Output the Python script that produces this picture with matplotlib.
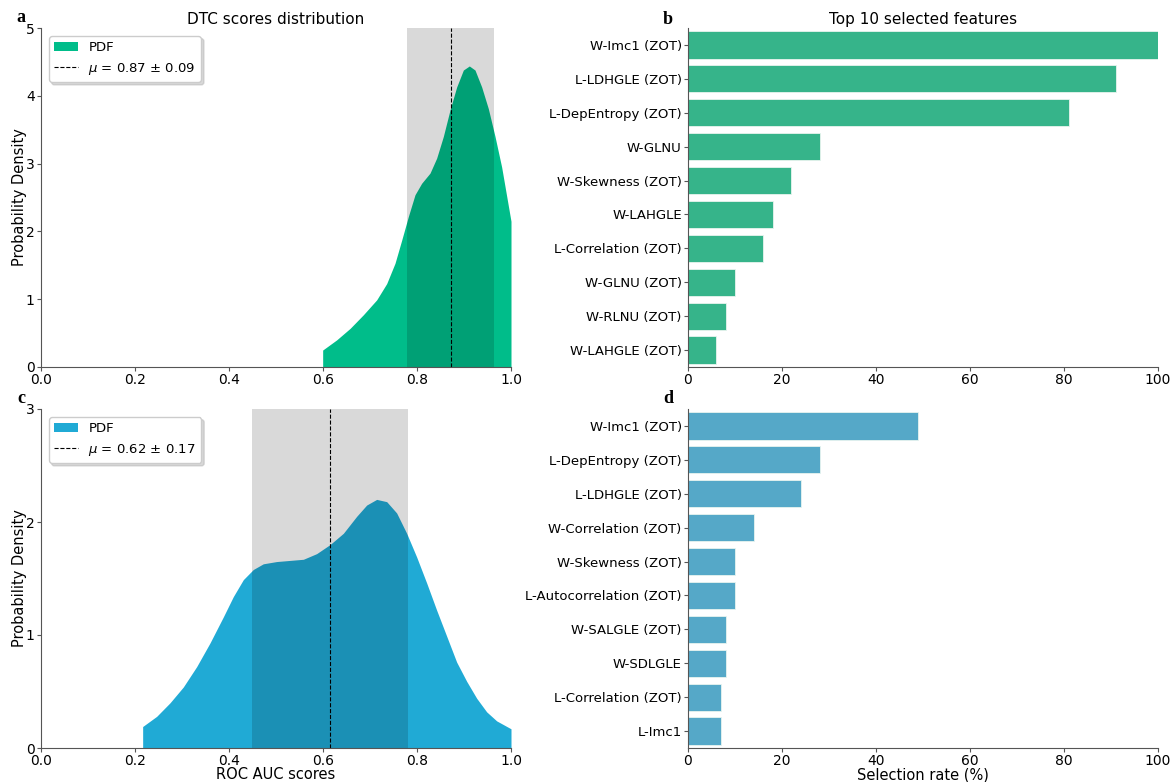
import numpy as np
import matplotlib.pyplot as plt

# ---- data ----
# KDE curve of DTC scores (panel a)
dtc_x = [0.5993, 0.6291, 0.6577, 0.6858, 0.7142, 0.7355, 0.7532, 0.7674, 0.7816, 0.7957,
         0.8099, 0.8277, 0.8418, 0.8560, 0.8702, 0.8844, 0.8986, 0.9113, 0.9234, 0.9376,
         0.9518, 0.9660, 0.9801, 1.0000]
dtc_y = [0.25, 0.40, 0.57, 0.77, 0.99, 1.23, 1.53, 1.87, 2.22, 2.54,
         2.71, 2.86, 3.08, 3.40, 3.79, 4.13, 4.38, 4.44, 4.38, 4.13,
         3.81, 3.40, 2.95, 2.15]
dtc_mean, dtc_std = 0.8718, 0.0929

# KDE curve of ROC AUC scores (panel c)
auc_x = [0.2163, 0.2461, 0.2745, 0.3028, 0.3312, 0.3596, 0.3879, 0.4092, 0.4305, 0.4518,
         0.4730, 0.5014, 0.5298, 0.5582, 0.5865, 0.6149, 0.6433, 0.6716, 0.6929, 0.7142,
         0.7355, 0.7567, 0.7780, 0.7993, 0.8206, 0.8418, 0.8631, 0.8844, 0.9057, 0.9270,
         0.9482, 0.9695, 1.0000]
auc_y = [0.19, 0.28, 0.40, 0.54, 0.72, 0.93, 1.16, 1.34, 1.49, 1.58,
         1.63, 1.65, 1.66, 1.67, 1.72, 1.80, 1.90, 2.05, 2.15, 2.20,
         2.18, 2.08, 1.90, 1.69, 1.46, 1.22, 0.99, 0.76, 0.59, 0.44,
         0.32, 0.24, 0.17]
auc_mean, auc_std = 0.6156, 0.1657

# top 10 selected features
feat_b = ['W-Imc1 (ZOT)', 'L-LDHGLE (ZOT)', 'L-DepEntropy (ZOT)', 'W-GLNU',
          'W-Skewness (ZOT)', 'W-LAHGLE', 'L-Correlation (ZOT)', 'W-GLNU (ZOT)',
          'W-RLNU (ZOT)', 'W-LAHGLE (ZOT)']
rate_b = [100, 91, 81, 28, 22, 18, 16, 10, 8, 6]

feat_d = ['W-Imc1 (ZOT)', 'L-DepEntropy (ZOT)', 'L-LDHGLE (ZOT)', 'W-Correlation (ZOT)',
          'W-Skewness (ZOT)', 'L-Autocorrelation (ZOT)', 'W-SALGLE (ZOT)', 'W-SDLGLE',
          'L-Correlation (ZOT)', 'L-Imc1']
rate_d = [49, 28, 24, 14, 10, 10, 8, 8, 7, 7]

plt.rcParams['font.family'] = 'DejaVu Sans'
fig = plt.figure(figsize=(11.74, 7.82), dpi=100)

W, H = 1174, 782
def box(l, t, r, b):
    return [l / W, (H - b) / H, (r - l) / W, (b - t) / H]

ax_a = fig.add_axes(box(41, 28, 511, 367))
ax_c = fig.add_axes(box(41, 409, 511, 748))
ax_b = fig.add_axes(box(688, 28, 1158, 367))
ax_d = fig.add_axes(box(688, 409, 1158, 748))


def style(ax):
    for s in ['top', 'right']:
        ax.spines[s].set_visible(False)
    for s in ['left', 'bottom']:
        ax.spines[s].set_color('#555555')
    ax.tick_params(labelsize=10, pad=1.5, length=3, color='#555555')


def kde_panel(ax, x, y, mean, std, color, ymax, label):
    ax.fill_between(x, 0, y, color=color, lw=0, label='PDF')
    # std band darkens whatever lies beneath it
    ax.axvspan(mean - std, mean + std, color='black', alpha=0.15, lw=0)
    ax.axvline(mean, color='black', ls='--', lw=0.8, label=label)
    ax.set_xlim(0, 1)
    ax.set_ylim(0, ymax)
    ax.set_yticks(range(ymax + 1))
    style(ax)
    ax.set_ylabel('Probability Density', fontsize=10.5, va='center')
    ax.yaxis.set_label_coords(-0.045, 0.5)
    ax.legend(loc='upper left', fontsize=9.5, shadow={'color': '0.7'},
              framealpha=1, edgecolor='#cccccc', borderaxespad=0.6,
              handlelength=1.8)


kde_panel(ax_a, dtc_x, dtc_y, dtc_mean, dtc_std, '#00bd8a', 5,
          r'$\mu$ = 0.87 $\pm$ 0.09')
ax_a.set_title('DTC scores distribution', fontsize=11, pad=3)

kde_panel(ax_c, auc_x, auc_y, auc_mean, auc_std, '#20aad5', 3,
          r'$\mu$ = 0.62 $\pm$ 0.17')
ax_c.set_xlabel('ROC AUC scores', fontsize=10.5, va='center')
ax_c.xaxis.set_label_coords(0.5, -0.079)


def bar_panel(ax, names, vals, color):
    pos = np.arange(len(names))
    ax.barh(pos, vals, height=0.8, color=color, edgecolor='#e8f4ef', lw=0.6)
    ax.set_yticks(pos)
    ax.set_yticklabels(names)
    ax.set_ylim(len(names) - 0.5, -0.5)
    ax.set_xlim(0, 100)
    style(ax)
    ax.tick_params(axis='y', labelsize=9.5)


bar_panel(ax_b, feat_b, rate_b, '#36b48a')
ax_b.set_title('Top 10 selected features', fontsize=11, pad=3)
bar_panel(ax_d, feat_d, rate_d, '#55a8c8')
ax_d.set_xlabel('Selection rate (%)', fontsize=10.5, va='center')
ax_d.xaxis.set_label_coords(0.5, -0.079)

for txt, x, y in [('a', 21, 17), ('b', 668, 19), ('c', 21, 399), ('d', 668, 399)]:
    fig.text(x / W, 1 - y / H, txt, fontsize=13, fontweight='bold',
             family='Liberation Serif', ha='center', va='center')

fig.savefig('out.png', dpi=100)
